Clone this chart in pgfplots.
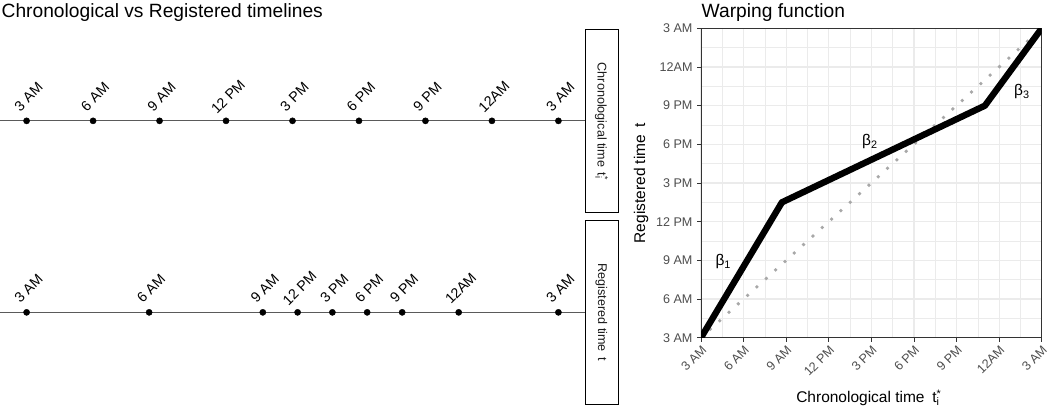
\documentclass[border=0pt]{standalone}
\usepackage{pgfplots}
\pgfplotsset{compat=1.18}
\usepackage{fontspec}
\setmainfont{Liberation Sans}
\definecolor{gridgray}{HTML}{EBEBEB}
\definecolor{ticklab}{HTML}{4D4D4D}
\definecolor{framegray}{HTML}{333333}
\definecolor{tlgray}{HTML}{5A5A5A}
\definecolor{dotgray}{HTML}{A8A8A8}
\definecolor{striptext}{HTML}{1A1A1A}
\newcommand{\tifont}{\fontsize{19.2}{21}\selectfont}
\newcommand{\axfont}{\fontsize{15.5}{17}\selectfont}
\newcommand{\tkfont}{\fontsize{12.6}{14}\selectfont}
\newcommand{\lbfont}{\fontsize{14.2}{16}\selectfont}
\pgfplotsset{timeline/.style={
  scale only axis, width=585pt, height=183.7pt,
  xmin=1.8, xmax=28.2, ymin=0, ymax=1,
  hide axis, clip=false}}
\pgfplotsset{tlpoints/.style={only marks, mark=*, mark size=3.1pt, black,
  point meta=explicit symbolic, nodes near coords,
  every node near coord/.style={anchor=center, xshift=2pt, yshift=24pt, rotate=45,
     font=\lbfont, text=black, inner sep=0pt}}}
\begin{document}
\begin{tikzpicture}
\useasboundingbox (0pt,0pt) rectangle (1050pt,407pt);
% titles
\node[anchor=base west, inner sep=0pt, font=\tifont] at (1.5pt,389.5pt) {Chronological vs Registered timelines};
\node[anchor=base west, inner sep=0pt, font=\tifont] at (701.5pt,389.5pt) {Warping function};

% top timeline: chronological
\begin{axis}[timeline, at={(0pt,194.3pt)}, anchor=south west]
\addplot[tlgray, line width=1.2pt] coordinates {(1.8,0.5) (28.2,0.5)};
\addplot[tlpoints] coordinates {
 (3,0.5)[3 AM] (6,0.5)[6 AM] (9,0.5)[9 AM] (12,0.5)[12 PM] (15,0.5)[3 PM]
 (18,0.5)[6 PM] (21,0.5)[9 PM] (24,0.5)[12AM] (27,0.5)[3 AM]};
\end{axis}

% bottom timeline: registered
\begin{axis}[timeline, at={(0pt,2.8pt)}, anchor=south west]
\addplot[tlgray, line width=1.2pt] coordinates {(1.8,0.5) (28.2,0.5)};
\addplot[tlpoints] coordinates {
 (3,0.5)[3 AM] (8.53,0.5)[6 AM] (13.66,0.5)[9 AM] (15.23,0.5)[12 PM] (16.80,0.5)[3 PM]
 (18.37,0.5)[6 PM] (19.95,0.5)[9 PM] (22.5,0.5)[12AM] (27,0.5)[3 AM]};
\end{axis}

% strips
\draw[black, line width=0.9pt, fill=white] (585pt,194.3pt) rectangle (618pt,378pt);
\node[rotate=-90, font=\tkfont, text=striptext] at (601.5pt,286.15pt) {Chronological time\hspace{0.45em}t\rlap{\textsuperscript{*}}\textsubscript{i}};
\draw[black, line width=0.9pt, fill=white] (585pt,2.8pt) rectangle (618pt,186.5pt);
\node[rotate=-90, font=\tkfont, text=striptext] at (601.5pt,94.65pt) {Registered time\hspace{0.45em}t};

% warping function
\begin{axis}[
  at={(701pt,69.3pt)}, anchor=south west, scale only axis,
  width=340.7pt, height=309.4pt,
  xmin=3, xmax=27, ymin=3, ymax=27,
  xtick={3,6,...,27}, ytick={3,6,...,27},
  minor xtick={4.5,7.5,...,25.5}, minor ytick={4.5,7.5,...,25.5},
  xticklabels={3 AM,6 AM,9 AM,12 PM,3 PM,6 PM,9 PM,12AM,3 AM},
  yticklabels={3 AM,6 AM,9 AM,12 PM,3 PM,6 PM,9 PM,12AM,3 AM},
  grid=both,
  major grid style={gridgray, line width=1.2pt},
  minor grid style={gridgray, line width=0.6pt},
  axis line style={framegray, line width=0.8pt},
  major tick style={framegray, line width=0.8pt},
  major tick length=4pt, minor tick length=0pt,
  tick align=outside, xtick pos=bottom, ytick pos=left,
  x tick label style={yshift=-3pt, rotate=45, anchor=north east, font=\tkfont, text=ticklab, inner sep=0pt},
  y tick label style={xshift=-4.3pt, anchor=east, font=\tkfont, text=ticklab, inner sep=0pt},
  xlabel={Chronological time\hspace{0.5em}t\rlap{\textsuperscript{*}}\textsubscript{i}},
  ylabel={Registered time\hspace{0.5em}t},
  every axis x label/.style={at={(axis description cs:0.49,-0.2088)}, anchor=base, font=\axfont},
  every axis y label/.style={at={(axis description cs:-0.176,0.5)}, anchor=center, rotate=90, font=\axfont},
]
\addplot[dotgray, line width=3.8pt, line cap=round, dash pattern=on 0pt off 12.6pt] coordinates {(3,3) (27,27)};
\addplot[black, line width=6.4pt, line join=round] coordinates {(3,3) (8.7,13.5) (23,21) (27,27)};
\node[font=\axfont] at (axis cs:4.57,8.9) {β\textsubscript{1}};
\node[font=\axfont] at (axis cs:14.9,18.2) {β\textsubscript{2}};
\node[font=\axfont] at (axis cs:25.6,22.1) {β\textsubscript{3}};
\end{axis}
\end{tikzpicture}
\end{document}
